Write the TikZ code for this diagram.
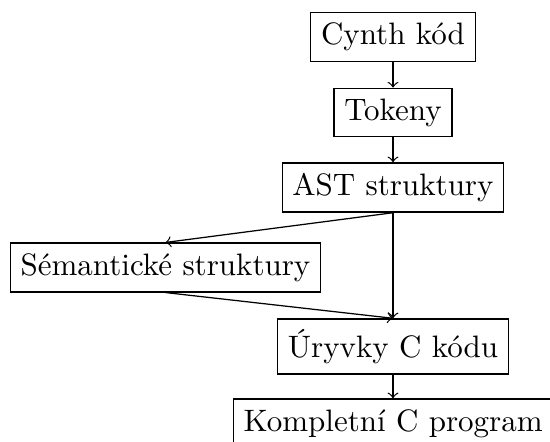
\documentclass[tikz,border=0pt]{standalone}
\usepackage{fontspec}
\begin{document}
\begin{tikzpicture}[x=0.32258pt,y=-0.32258pt,
  box/.style={draw,line width=0.4pt,inner sep=0.3333em},
  conn/.style={->,line width=0.4pt}]
\useasboundingbox (0,0) rectangle (550,441);
\node[box] (cynth) at (393,37) {Cynth kód};
\node[box] (tok) at (393,112.5) {Tokeny};
\node[box] (ast) at (393,187.5) {AST struktury};
\node[box] (sem) at (165.5,267.5) {Sémantické struktury};
\node[box] (ury) at (393,346.5) {Úryvky C kódu};
\node[box, anchor=north west] (komp) at (232.7,398.3) {Kompletní C program};
\draw[conn] (cynth.south) -- (tok.north);
\draw[conn] (tok.south) -- (ast.north);
\draw[conn] (ast.south) -- (sem.north);
\draw[conn] (ast.south) -- (ury.north);
\draw[conn] (sem.south) -- (ury.north);
\draw[conn] (ury.south) -- (ury.south |- komp.north);
\end{tikzpicture}
\end{document}
